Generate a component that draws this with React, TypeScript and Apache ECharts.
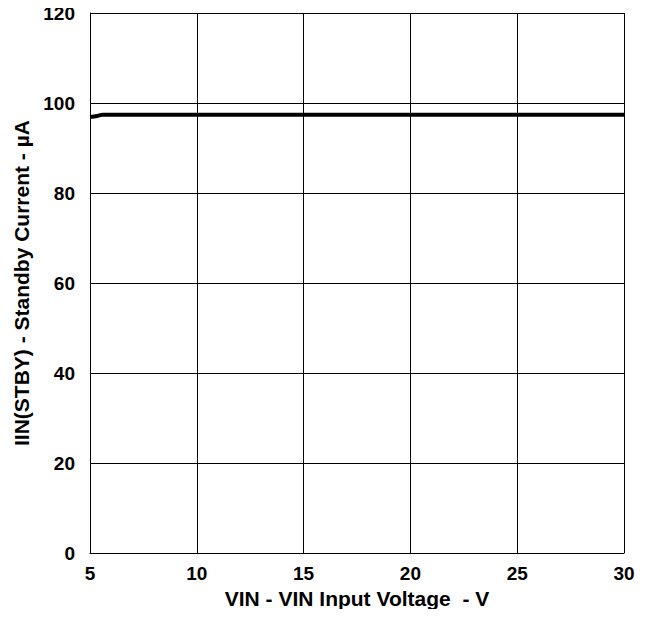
import React, { useEffect, useRef } from "react";
import * as echarts from "echarts";

// Standby current vs. input voltage
const vinVolts = [5, 5.2, 5.4, 5.6, 6, 8, 10, 15, 20, 25, 30];
const standbyMicroAmps = [96.9, 97.0, 97.2, 97.4, 97.4, 97.4, 97.4, 97.4, 97.4, 97.4, 97.4];

const xTicks = [5, 10, 15, 20, 25, 30];
const yTicks = [0, 20, 40, 60, 80, 100, 120];

const FONT = "'Liberation Sans', Arial, sans-serif";

export default function App() {
  const ref = useRef<HTMLDivElement>(null);

  useEffect(() => {
    if (!ref.current) return;
    const chart = echarts.init(ref.current, null, { renderer: "svg" });
    const gridLine = { show: true, lineStyle: { color: "#000", width: 1 } };
    const nameStyle = { fontFamily: FONT, fontWeight: "bold", fontSize: 21, color: "#000" };
    const tickStyle = { fontFamily: FONT, fontWeight: "bold", fontSize: 19, color: "#000" };
    chart.setOption({
      animation: false,
      backgroundColor: "#fff",
      grid: { left: 90, top: 13, right: 25, bottom: 64, containLabel: false },
      xAxis: {
        type: "value",
        min: xTicks[0],
        max: xTicks[xTicks.length - 1],
        interval: 5,
        name: "VIN - VIN Input Voltage  - V",
        nameLocation: "middle",
        nameGap: 31,
        nameTextStyle: nameStyle,
        axisLine: { show: true, lineStyle: { color: "#000", width: 1 } },
        axisTick: { show: false },
        splitLine: gridLine,
        axisLabel: { ...tickStyle, margin: 11 },
      },
      yAxis: {
        type: "value",
        min: yTicks[0],
        max: yTicks[yTicks.length - 1],
        interval: 20,
        name: "IIN(STBY) - Standby Current - µA",
        nameLocation: "middle",
        nameGap: 57,
        nameTextStyle: nameStyle,
        axisLine: { show: true, lineStyle: { color: "#000", width: 1 } },
        axisTick: { show: false },
        splitLine: gridLine,
        axisLabel: { ...tickStyle, margin: 15 },
      },
      series: [
        {
          type: "line",
          data: vinVolts.map((v, i) => [v, standbyMicroAmps[i]]),
          showSymbol: false,
          smooth: true,
          lineStyle: { color: "#000", width: 4 },
        },
      ],
    });
    return () => chart.dispose();
  }, []);

  return <div ref={ref} style={{ width: 649, height: 617, margin: -8 }} />;
}
